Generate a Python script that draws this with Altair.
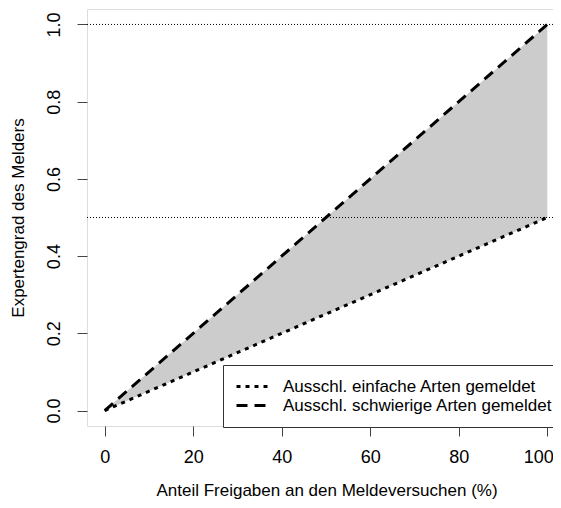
import altair as alt
import pandas as pd

# data
x_vals = [0, 100]
upper_vals = [0.0, 1.0]   # Ausschl. schwierige Arten gemeldet
lower_vals = [0.0, 0.5]   # Ausschl. einfache Arten gemeldet
hlines = [0.5, 1.0]
series_names = ["Ausschl. einfache Arten gemeldet", "Ausschl. schwierige Arten gemeldet"]
x_ticks = [0, 20, 40, 60, 80, 100]
y_ticks = [0.0, 0.2, 0.4, 0.6, 0.8, 1.0]

band = pd.DataFrame({"x": x_vals, "lo": lower_vals, "hi": upper_vals})
lines = pd.DataFrame({
    "x": x_vals * 2,
    "y": lower_vals + upper_vals,
    "s": [series_names[0]] * 2 + [series_names[1]] * 2,
})
hl = pd.DataFrame({"y": hlines})

FONT = "Liberation Sans"
xs = alt.Scale(domain=[-4, 104], nice=False, zero=False)
ys = alt.Scale(domain=[-0.04, 1.04], nice=False, zero=False)

xax = alt.Axis(values=x_ticks, title="Anteil Freigaben an den Meldeversuchen (%)",
               domain=False, grid=False, tickSize=10, tickColor="#444", tickWidth=1,
               labelFontSize=18, labelFont=FONT, labelColor="black", labelPadding=12,
               labelAlign=alt.ExprRef("datum.value == 100 ? 'right' : 'center'"),
               labelOffset=alt.ExprRef("datum.value == 100 ? 6 : 0"),
               titleFont=FONT, titleFontSize=17, titleFontWeight="normal",
               titleColor="black", titlePadding=16, titleX=(560 - 87) / 2 + 3, format="d")
yax = alt.Axis(values=y_ticks, title="Expertengrad des Melders",
               domain=False, grid=False, tickSize=10, tickColor="#444", tickWidth=1,
               labelFontSize=18, labelFont=FONT, labelColor="black", labelAngle=270,
               labelAlign="center", labelBaseline="bottom", labelPadding=14,
               format=".1f",
               titleFont=FONT, titleFontSize=17, titleFontWeight="normal",
               titleColor="black", titlePadding=18)

area = alt.Chart(band).mark_area(color="#CCCCCC", opacity=1).encode(
    x=alt.X("x:Q", scale=xs, axis=xax),
    y=alt.Y("lo:Q", scale=ys, axis=yax),
    y2="hi:Q",
)

hrules = alt.Chart(hl).mark_rule(color="black", strokeWidth=1, strokeDash=[1, 2]).encode(
    y=alt.Y("y:Q", scale=ys),
)

lns = alt.Chart(lines).mark_line(color="black", strokeWidth=3, strokeCap="butt").encode(
    x=alt.X("x:Q", scale=xs),
    y=alt.Y("y:Q", scale=ys),
    strokeDash=alt.StrokeDash(
        "s:N",
        scale=alt.Scale(domain=series_names, range=[[4, 5], [11, 7]]),
        legend=alt.Legend(
            title=None, orient="none", legendX=223 - 87, legendY=365 - 9,
            symbolType="stroke", symbolSize=961, symbolStrokeWidth=3,
            symbolStrokeColor="black", labelFont=FONT, labelFontSize=17,
            labelColor="black", labelOffset=14, clipHeight=19, rowPadding=0,
            padding=12, strokeColor="#333", fillColor="white", labelLimit=400,
        ),
    ),
    detail="s:N",
)

chart = alt.layer(area, hrules, lns).properties(
    width=478, height=417,
    padding={"left": 79, "top": 1, "right": -12, "bottom": 74},
    autosize=alt.AutoSizeParams(type="none"),
).configure_view(stroke="#333", strokeWidth=1).configure(background="white")

chart.save("out.html", embed_options={"renderer": "svg", "actions": False})
